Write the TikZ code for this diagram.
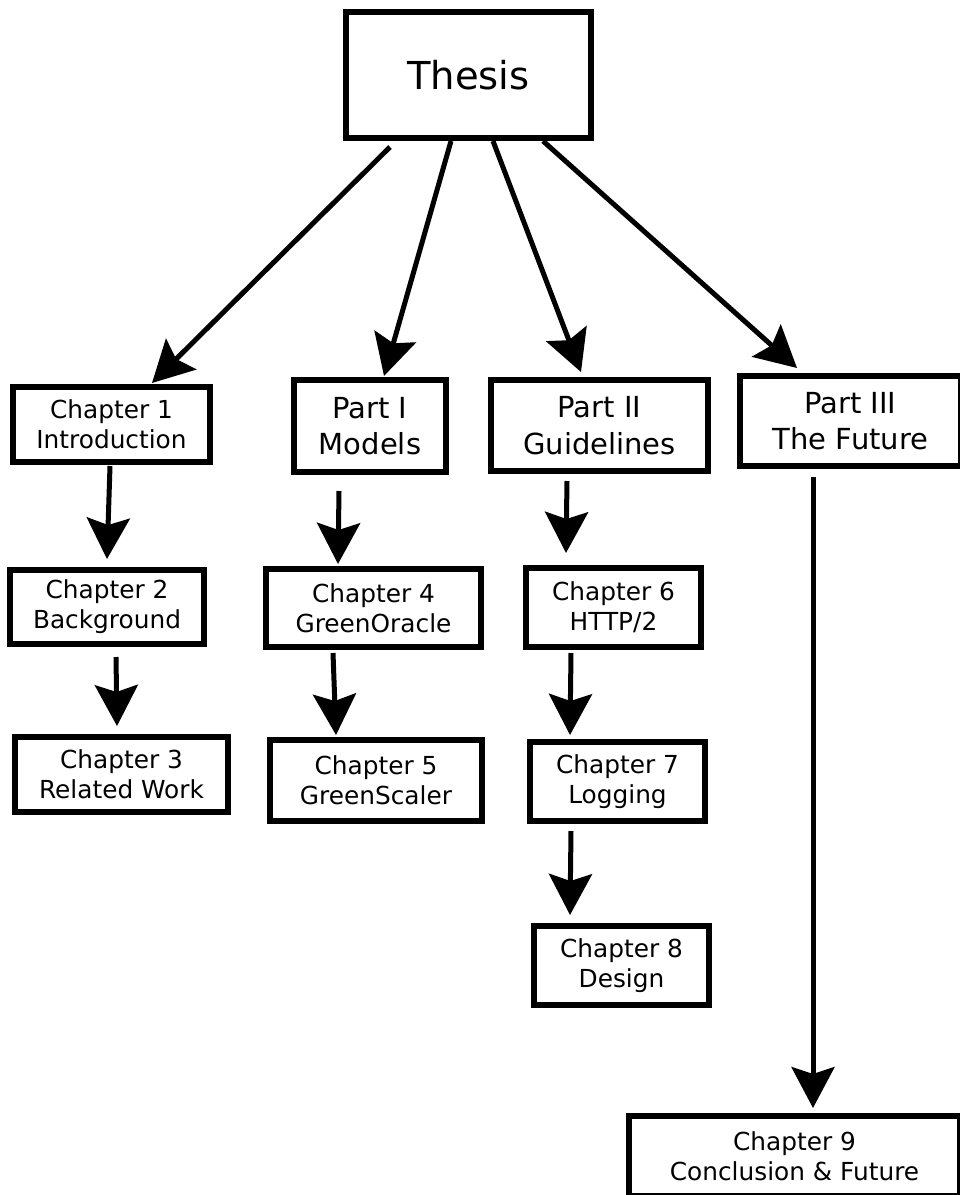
\documentclass[tikz,border=0pt]{standalone}
\usepackage{fontspec}
\setmainfont{DejaVu Sans}
\usetikzlibrary{arrows.meta}

\begin{document}
\begin{tikzpicture}[x=1pt,y=-1pt,
	box/.style={draw,line width=5.8pt,outer sep=0pt,inner sep=0pt,align=center},
	link/.style={line width=5pt,-{Stealth[length=41pt,width=43pt,inset=7pt]}}]
\useasboundingbox (0,0) rectangle (960,1195);
\clip (0,0) rectangle (960,1195);

\node [box,minimum width=245pt,minimum height=126pt,font=\fontsize{38.5}{46}\selectfont] (thesis) at (468.5,75) {Thesis};

% parts
\foreach \n / \x / \y / \w / \h / \t in {
								part1/370/426/152.5/92.5/{Part I\\Models},
								part2/599.5/425.5/217.5/91.5/{Part II\\Guidelines},
								part3/850.5/421/221/90.5/{Part III\\The Future}%
										}
	{%
		\node [box,minimum width=\w pt,minimum height=\h pt,font=\fontsize{29}{36.5}\selectfont] (\n) at (\x,\y) {\t};
	}

% chapters
\foreach \n / \x / \y / \w / \h / \t in {
								ch1/111.5/424.5/197.5/75.5/{Chapter 1\\Introduction},
								ch2/107/607/194.5/74.5/{Chapter 2\\Background},
								ch3/121.5/774.5/213.5/75.5/{Chapter 3\\Related Work},
								ch4/373.5/608/215.5/78.5/{Chapter 4\\GreenOracle},
								ch5/376/780.5/212.5/81.5/{Chapter 5\\GreenScaler},
								ch6/613.5/607.5/175.5/79.5/{Chapter 6\\HTTP/2},
								ch7/617.5/781.5/175.5/79.5/{Chapter 7\\Logging},
								ch8/621.5/965.5/175.5/79.5/{Chapter 8\\Design},
								ch9/794.5/1156/331/80/{Chapter 9\\Conclusion \& Future}%
										}
	{%
		\node [box,minimum width=\w pt,minimum height=\h pt,font=\fontsize{24.8}{30}\selectfont] (\n) at (\x,\y) {\t};
	}

% arrows
\foreach \a / \s / \b / \e in {
								thesis.south/{-78.5,9}/ch1.north/{40.5,-3.75},
								thesis.south/{-17.5,3}/part1.north/{14,-3.75},
								thesis.south/{24.5,3}/part2.north/{-18.5,-7.75},
								thesis.south/{74.5,3}/part3.north/{-53.5,-7.75},
								ch1.south/{-1.5,3.75}/ch2.north/{0,-10.75},
								ch2.south/{9,12.75}/ch3.north/{-4.5,-10.75},
								part1.south/{-31,18.75}/ch4.north/{-35.5,-4.75},
								ch4.south/{-40.5,5.75}/ch5.north/{-40,-4.75},
								part2.south/{-32.5,9.75}/ch6.north/{-47.5,-14.75},
								ch6.south/{-42.5,5.75}/ch7.north/{-47.5,-6.75},
								ch7.south/{-46.5,9.75}/ch8.north/{-51.5,-10.75},
								part3.south/{-37.5,10.75}/ch9.north/{18.5,-8}%
										}
	{%
		\draw [link] ([shift={(\s)}]\a) -- ([shift={(\e)}]\b);
	}

\end{tikzpicture}
\end{document}
